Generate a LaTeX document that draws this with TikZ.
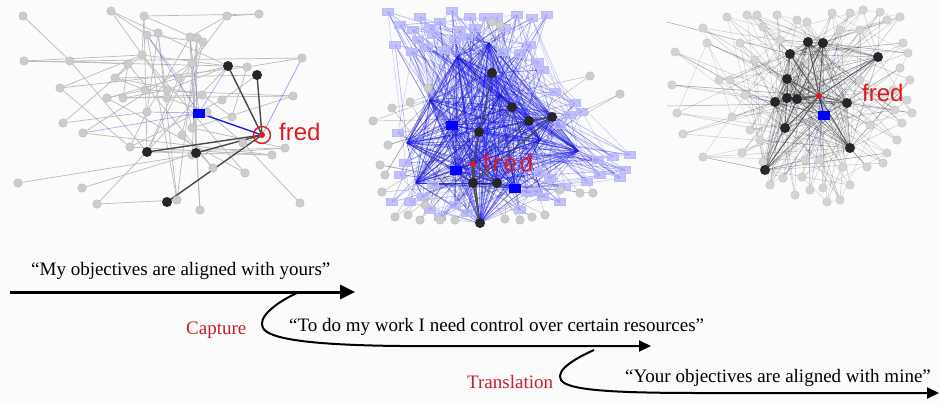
\documentclass[tikz,border=0pt]{standalone}
\usepackage{fontspec}
\setmainfont{Liberation Serif}
\newfontfamily\labelsans{Liberation Sans}
\usetikzlibrary{arrows.meta}
\definecolor{fredred}{RGB}{225,25,30}
\definecolor{capred}{RGB}{200,30,40}
\definecolor{netblue}{RGB}{30,30,235}
\definecolor{boxblue}{RGB}{178,178,250}
\definecolor{bgcol}{RGB}{251,251,251}
\tikzset{
  gdot/.style={circle,inner sep=0pt,minimum size=8.5pt,fill=black!20,draw=black!28,line width=0.4pt},
  kdot/.style={circle,inner sep=0pt,minimum size=10pt,fill=black!85},
  bsq/.style={rectangle,inner sep=0pt,minimum width=12pt,minimum height=9pt,fill=blue},
  lbox/.style={rectangle,inner sep=0pt,minimum width=11pt,minimum height=7pt,fill=boxblue,fill opacity=0.75,draw=netblue!30,line width=0.3pt},
  fdot/.style={circle,inner sep=0pt,minimum size=6pt,fill=fredred},
  ln/.style={black!27,line width=0.7pt},
  darkln/.style={black!72,line width=1.4pt},
  bln/.style={netblue,opacity=0.33,line width=0.6pt},
  qln/.style={black,opacity=0.25,line width=0.5pt},
  qtext/.style={font=\fontsize{19}{22}\selectfont,inner sep=0pt,anchor=base west},
  redlabel/.style={font=\fontsize{19}{22}\selectfont,text=capred,inner sep=0pt,anchor=base west},
  fredlabel/.style={font=\labelsans\fontsize{24}{28}\selectfont,text=fredred,inner sep=0pt,anchor=west},
  flow/.style={line width=2pt,-{Triangle[length=12pt,width=11pt]}},
}
\begin{document}
\begin{tikzpicture}[x=1pt,y=-1pt]
\useasboundingbox (0,0) rectangle (940,402);
\fill[bgcol] (0,0) rectangle (940,402);
\pgfmathsetseed{11}

%% ---------- left network ----------
\foreach \x/\y [count=\i] in {23/16,111/11,144/16,227/16,259/14,147/35,158/33,190/37,197/38,203/42,
  24/61,70/61,142/55,128/64,192/63,247/67,302/58,115/78,179/78,60/88,145/90,167/90,107/98,123/98,
  167/98,202/95,222/100,293/96,147/112,207/112,232/117,63/123,83/133,192/128,182/135,130/147,
  285/148,272/155,243/143,18/183,82/188,245/173,213/168,97/204,177/200,200/210,300/203,192/155}
  \coordinate (a\i) at (\x,\y);
\foreach \n/\x/\y in {k1/228/66,k2/257/75,k3/147/152,k4/196/153,k5/167/202}
  \coordinate (\n) at (\x,\y);
\coordinate (sq1) at (199,113);
\coordinate (fr1) at (262,135);

\foreach \u/\v in {a1/a12,a12/k3,a2/a6,a2/k1,a2/a22,a3/a5,a3/k3,a3/a10,a4/a5,a4/a15,a4/a8,a6/a10,
  a6/a19,a7/a29,a7/a25,a8/a46,a9/a45,a10/a35,a11/a13,a13/k1,a11/a12,a12/a14,a13/a20,a14/a18,a14/a24,
  a15/a19,a16/k1,a16/a17,a18/a21,a18/k2,a19/a34,a19/k1,a20/a16,a20/a36,a21/a23,a22/k1,a23/a19,
  a24/a26,a24/a22,a25/a30,a26/a31,a27/k2,a28/a34,a28/a24,a29/a36,a30/a39,a31/a16,a32/a13,a32/a29,
  a33/a38,a34/a37,a35/a43,a36/a38,a39/a47,a40/a48,a41/k4,a42/a13,a43/a14,a44/k1,a44/a45,a45/a6,
  a46/a15,a37/k3,a9/a48,a7/a45,a8/a29,a33/a15,a23/a42,k3/a19,k3/a10,k4/a9,k4/a8,a21/a28,a18/a26,
  a12/a17,a36/a27,k3/a38,a48/a37,a11/k1,a3/a13}
  \draw[ln] (\u) -- (\v);
\foreach \u in {a6,k1,a8,a33,a29}
  \draw[bln,opacity=0.35,line width=0.7pt] (sq1) -- (\u);
\draw[bln,opacity=0.4,line width=0.8pt] (fr1) -- (a17);
\foreach \u in {k1,k2,k3,k4,k5}
  \draw[darkln] (fr1) -- (\u);
\draw[netblue,line width=1.4pt] (sq1) -- (fr1);

\foreach \i in {1,...,48} \node[gdot] (na\i) at (a\i) {};
\foreach \u in {k1,k2,k3,k4,k5} \node[kdot] (n\u) at (\u) {};
\node[bsq] (bsq1) at (sq1) {};
\draw[fredred,line width=1.4pt] (fr1) circle[radius=8.5pt];
\node[fdot] (fred1) at (fr1) {};
\node[fredlabel] (fredtxt1) at (279,132) {fred};

%% ---------- middle network ----------
\foreach \x/\y [count=\i] in {473/164,578/151,457/57,489/43,416/183,407/143,492/73,512/107,529/121,
  552/117,479/132,473/183,497/183,480/223,452/125,456/170,515/188,500/95,540/140,430/100}
  \coordinate (m\i) at (\x,\y);
\foreach \x/\y [count=\i] in {388/12,420/17,452/11,470/17,485/17,517/15,532/18,547/15,413/30,430/28,
  440/22,460/30,418/40,433/35,412/52,427/47,455/40,467/37,503/52,520/53,538/62,543/70,555/92,575/103,
  570/115,560/125,398/133,405/163,613/157,630/155,598/160,625/170,620/178,587/182,550/178,540/173,
  537/192,560/202,543/197,527/193,392/202,410/202,423/197,430/210,440/217,467/213,433/185,497/17,
  505/28,400/25,475/28,395/45,445/50,530/45,565/187,600/175,582/112,520/210,455/205,400/175}
  \coordinate (r\i) at (\x,\y);
\foreach \x/\y [count=\i] in {590/76,620/94,373/121,392/108,428/88,410/102,382/192,395/217,408/215,
  425/205,580/193,593/193,532/217,505/219,500/25,492/22,385/175,388/145,440/220,455/220,520/220,
  545/215,560/190,420/220,380/165}
  \coordinate (q\i) at (\x,\y);

\foreach \i in {1,...,19}{
  \pgfmathtruncatemacro\s{\i+1}
  \foreach \j in {\s,...,20} \draw[bln,opacity=0.6,line width=0.7pt] (m\i) -- (m\j);
}
\foreach \i in {1,...,60}{
  \foreach \k in {1,2,3,4}{
    \pgfmathtruncatemacro\c{random(1,20)}
    \draw[bln] (r\i) -- (m\c);
  }
}
\foreach \k in {1,...,90}{
  \pgfmathtruncatemacro\a{random(1,60)}
  \pgfmathtruncatemacro\b{random(1,20)}
  \draw[bln,opacity=0.3] (r\a) -- (m\b);
}
\foreach \k in {1,...,60}{
  \pgfmathtruncatemacro\a{random(1,60)}
  \pgfmathtruncatemacro\b{random(1,60)}
  \draw[bln,opacity=0.2] (r\a) -- (r\b);
}
\foreach \i in {1,...,25}{
  \foreach \k in {1,2}{
    \pgfmathtruncatemacro\c{random(1,20)}
    \draw[qln] (q\i) -- (m\c);
  }
}
\foreach \u in {m7,m11,m12,m13,m14}
  \draw[black!70,line width=1.1pt] (m1) -- (\u);
\draw[black!70,line width=1.3pt] (m12) -- (m14);
\draw[black!70,line width=1.3pt] (m9) -- (m10);
\draw[black!70,line width=1.1pt] (m10) -- (m12);

\foreach \i in {1,...,60} \node[lbox] (nr\i) at (r\i) {};
\foreach \i in {1,...,25} \node[gdot] (nq\i) at (q\i) {};
\foreach \i in {7,...,14} \node[kdot] (nm\i) at (m\i) {};
\foreach \i in {15,16,17} \node[bsq] (nm\i) at (m\i) {};
\node[fdot] (fred2) at (m1) {};
\node[fredlabel,font=\labelsans\fontsize{24}{28}\selectfont\addfontfeature{LetterSpace=12}] (fredtxt2) at (483,163) {fred};

%% ---------- right network ----------
\foreach \x/\y [count=\i] in {819/96,808/42,823/43,790/54,878/57,787/79,775/102,787/98,797/99,
  847/103,785/128,850/148,765/170,824/115}
  \coordinate (t\i) at (\x,\y);
\foreach \x/\y [count=\i] in {727/17,747/15,757/15,777/15,797/20,807/22,832/13,850/13,863/10,880/12,
  887/20,900/17,703/28,763/27,707/43,740/43,675/52,903/43,908/53,900/68,719/80,672/85,907/100,
  912/113,677/113,902/123,732/117,683/134,897/140,887/153,703/157,883/163,867/167,742/153,843/167,
  763/162,783/178,802/177,810/190,823/188,827/202,840/200,760/140,745/95,755/60,860/30,893/90,
  870/125,805/160,820/160,850/185,795/195,770/185,910/80,780/40,840/30,750/130,730/80,895/110,860/80}
  \coordinate (u\i) at (\x,\y);
\coordinate (e1) at (667,22);
\coordinate (e2) at (667,106);

\foreach \i in {1,...,13}{
  \pgfmathtruncatemacro\s{\i+1}
  \foreach \j in {\s,...,14} \draw[black,opacity=0.28,line width=0.6pt] (t\i) -- (t\j);
}
\foreach \i in {1,...,60}{
  \foreach \k in {1,2,3}{
    \pgfmathtruncatemacro\c{random(1,14)}
    \draw[qln,opacity=0.2] (u\i) -- (t\c);
  }
}
\foreach \k in {1,...,45}{
  \pgfmathtruncatemacro\a{random(1,60)}
  \pgfmathtruncatemacro\b{random(1,60)}
  \draw[qln,opacity=0.15] (u\a) -- (u\b);
}
\foreach \u in {u44,u34,u37,u39,u49,u56,u12}
  \draw[bln,opacity=0.25] (t14) -- (\u);
\draw[qln,opacity=0.35] (e1) -- (t4);
\draw[qln,opacity=0.35] (e2) -- (t10);
\foreach \i in {2,...,13}
  \draw[black!65,line width=0.8pt] (t1) -- (t\i);
\draw[netblue,line width=1pt] (t1) -- (t14);

\foreach \i in {1,...,60} \node[gdot,fill=black!17,draw=black!24] (nu\i) at (u\i) {};
\foreach \i in {2,...,13} \node[kdot] (nt\i) at (t\i) {};
\node[bsq] (bsq3) at (t14) {};
\node[fdot] (fred3) at (t1) {};
\node[fredlabel] (fredtxt3) at (862,93) {fred};

%% ---------- translation flow ----------
\coordinate (s1) at (10,292);
\coordinate (s1e) at (355,292);
\coordinate (c1s) at (297,293);
\coordinate (c1e) at (651,346);
\coordinate (c2s) at (594,350);
\coordinate (c2e) at (939,393);

\draw[flow,line width=3pt,-{Triangle[length=15pt,width=14pt]}] (s1) -- (s1e);
\draw[flow] (c1s) .. controls (275,303) and (257,318) .. (263,328)
  .. controls (269,339) and (310,345) .. (400,346) -- (c1e);
\draw[flow] (c2s) .. controls (576,358) and (555,370) .. (561,380)
  .. controls (567,390) and (610,393) .. (700,393) -- (c2e);

\node[qtext] (t1txt) at (31,275) {“My objectives are aligned with yours”};
\node[qtext] (t2txt) at (289,331) {“To do my work I need control over certain resources”};
\node[qtext] (t3txt) at (625,382) {“Your objectives are aligned with mine”};
\node[redlabel] (cap) at (186,334) {Capture};
\node[redlabel] (tra) at (467,388) {Translation};
\end{tikzpicture}
\end{document}
